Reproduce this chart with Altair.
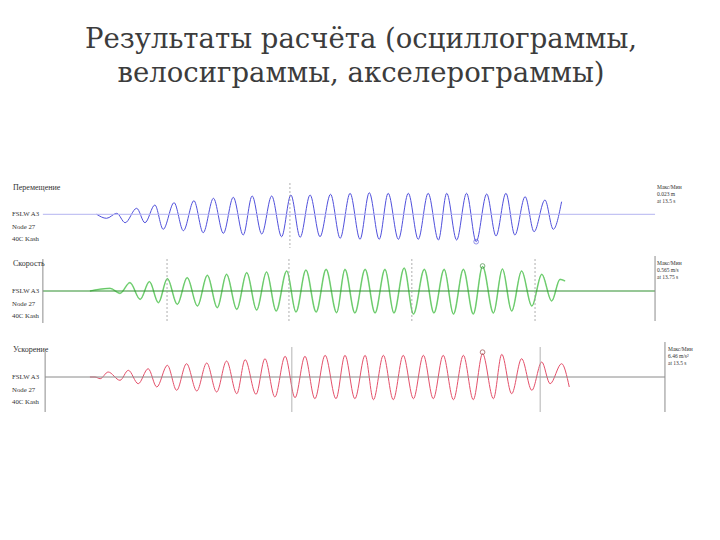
import altair as alt
import pandas as pd

TITLE_LINES = ["Результаты расчёта (осциллограммы,", "велосиграммы, акселерограммы)"]

# ---- Displacement (mm), time (s)
disp_t = [1.57, 1.88, 2.20, 2.46, 2.82, 3.08, 3.39, 3.65, 3.99, 4.28, 4.61, 4.90, 5.22, 5.53,
          5.84, 6.15, 6.43, 6.73, 7.04, 7.35, 7.64, 7.93, 8.24, 8.55, 8.88, 9.18, 9.49, 9.80,
          10.09, 10.40, 10.68, 11.00, 11.31, 11.62, 11.93, 12.25, 12.51, 12.82, 13.13, 13.43,
          13.76, 14.05, 14.36, 14.64, 14.96, 15.24, 15.58, 15.84, 16.10]
disp_v = [0, -4, 1, -8.4, 6, -8.4, 9.3, -15, 11.6, -16.4, 13.6, -18.4, 16, -19,
          17, -20.7, 18.3, -19.7, 18.3, -22.4, 19.3, -23, 19.3, -22.4, 20, -24, 21, -25,
          21.6, -25, 21, -25, 21, -25, 21, -25.7, 21, -25.7, 21, -27.4,
          20.3, -21.7, 21, -20.7, 17.6, -17.4, 14.3, -15, 12.6]

# ---- Velocity (m/s)
vel_t = [1.36, 1.99, 2.30, 2.61, 2.93, 3.22, 3.50, 3.78, 4.09, 4.40, 4.72, 5.03, 5.34, 5.63,
         5.95, 6.26, 6.57, 6.88, 7.18, 7.51, 7.80, 8.11, 8.43, 8.74, 9.07, 9.33, 9.64, 9.96,
         10.27, 10.58, 10.86, 11.18, 11.47, 11.81, 12.11, 12.43, 12.72, 13.03, 13.34, 13.63,
         13.97, 14.25, 14.54, 14.85, 15.17, 15.48, 15.79, 16.05, 16.21]
vel_v = [0, 0.061, -0.052, 0.188, -0.188, 0.210, -0.264, 0.278, -0.301, 0.301, -0.339, 0.355,
         -0.377, 0.377, -0.414, 0.414, -0.429, 0.429, -0.452, 0.452, -0.475, 0.475, -0.475,
         0.490, -0.490, 0.490, -0.497, 0.490, -0.497, 0.490, -0.497, 0.520, -0.520, 0.490,
         -0.497, 0.490, -0.520, 0.490, -0.520, 0.554, -0.497, 0.497, -0.452, 0.452, -0.339,
         0.377, -0.226, 0.264, 0.226]

# ---- Acceleration (m/s^2)
acc_t = [1.36, 1.52, 1.68, 1.93, 2.30, 2.56, 2.87, 3.18, 3.45, 3.78, 4.07, 4.38, 4.70, 5.01,
         5.32, 5.63, 5.95, 6.21, 6.55, 6.83, 7.14, 7.46, 7.77, 8.08, 8.39, 8.71, 9.05, 9.33,
         9.64, 9.96, 10.22, 10.53, 10.84, 11.15, 11.47, 11.78, 12.09, 12.40, 12.72, 13.03,
         13.34, 13.63, 13.97, 14.23, 14.54, 14.85, 15.17, 15.48, 15.74, 16.10, 16.34]
acc_v = [0, 0, -0.50, 1.47, -0.97, 1.97, -1.97, 2.44, -2.94, 3.44, -3.91, 3.91, -4.12, 4.12,
         -4.41, 4.70, -4.91, 5.09, -5.09, 5.38, -5.88, 6.09, -6.09, 6.09, -6.38, 6.38, -6.38,
         6.38, -6.38, 6.38, -6.67, 6.38, -6.67, 6.38, -6.38, 6.38, -6.38, 6.38, -6.67, 6.38,
         -6.67, 6.85, -6.38, 6.67, -4.91, 5.38, -3.91, 4.41, -1.97, 3.91, -2.94]

# markers at the extreme values
disp_marker = (13.43, -27.4)
vel_marker = (13.63, 0.565)
acc_marker = (13.63, 7.3)

# vertical guide lines (s)
disp_guides = [7.61]
vel_guides = [3.77, 7.58, 11.42, 15.27]
acc_guides = [7.67, 15.43]

# baseline / frame extents (s)
disp_extent = [-0.11, 19.02]
vel_extent = [-0.11, 19.02]
acc_extent = [-0.04, 19.33]

panel_titles = ["Перемещение", "Скорость", "Ускорение"]
left_labels = [["FSLW A3", "Node 27", "40C Kash"],
               ["FSLW A3", "Node 27", "40C Kash"],
               ["FSLW A3", "Node 27", "40C Kash"]]
right_labels = [["Макс/Мин", "0.023 m", "at 13.5 s"],
                ["Макс/Мин", "0.565 m/s", "at 13.75 s"],
                ["Макс/Мин", "6.46 m/s²", "at 13.5 s"]]

W = 704
XDOM = [-1.2, 20.8]
SERIF = "Liberation Serif"


def txt(s, x, y, size, align="left", color="#333333", font=SERIF):
    return alt.Chart(pd.DataFrame({"s": [s]})).mark_text(
        align=align, baseline="middle", fontSize=size, font=font, color=color
    ).encode(x=alt.value(x), y=alt.value(y), text="s:N")


def panel(t, v, color, base_color, ydom, height, base_y, extent, guides, guide_dash,
          guide_color, guide_y, frame_y, marker, mcolor, title, left, right, right_x,
          right_lh, wave_width=1.0, extra_color=None):
    xs = alt.Scale(domain=XDOM, nice=False, zero=False)
    ys = alt.Scale(domain=ydom, nice=False, zero=False)
    layers = []
    wave_df = pd.DataFrame({"t": t, "v": v})
    if extra_color:
        layers.append(alt.Chart(wave_df).mark_line(
            color=extra_color, strokeWidth=1.7, interpolate="monotone").encode(
            x=alt.X("t:Q", scale=xs, axis=None), y=alt.Y("v:Q", scale=ys, axis=None)))
    layers.append(alt.Chart(wave_df).mark_line(
        color=color, strokeWidth=wave_width, interpolate="monotone").encode(
        x=alt.X("t:Q", scale=xs, axis=None), y=alt.Y("v:Q", scale=ys, axis=None)))
    base_df = pd.DataFrame({"t": [extent[0]], "t2": [extent[1]], "v": [0.0]})
    layers.append(alt.Chart(base_df).mark_rule(color=base_color, strokeWidth=1).encode(
        x=alt.X("t:Q"), x2="t2:Q", y=alt.Y("v:Q")))
    layers.append(alt.Chart(pd.DataFrame({"t": guides})).mark_rule(
        color=guide_color, strokeWidth=0.8, strokeDash=guide_dash).encode(
        x=alt.X("t:Q"), y=alt.value(guide_y[0]), y2=alt.value(guide_y[1])))
    if frame_y is not None:
        for tt, (ya, yb) in zip(extent, frame_y):
            layers.append(alt.Chart(pd.DataFrame({"t": [tt]})).mark_rule(
                color="#8c8c8c", strokeWidth=1).encode(
                x=alt.X("t:Q"), y=alt.value(ya), y2=alt.value(yb)))
    layers.append(alt.Chart(pd.DataFrame({"t": [marker[0]], "v": [marker[1]]})).mark_point(
        shape="circle", size=22, filled=False, color=mcolor, strokeWidth=0.9).encode(
        x=alt.X("t:Q"), y=alt.Y("v:Q")))
    layers.append(txt(title, 5, 8, 8))
    for i, s in enumerate(left):
        layers.append(txt(s, 4, base_y + i * 12.5, 6.8))
    for i, s in enumerate(right):
        layers.append(txt(s, right_x, 7 + i * right_lh, 5.5))
    return alt.layer(*layers).properties(width=W, height=height)


title_panel = alt.layer(
    txt(TITLE_LINES[0], 353, 32, 27.5, align="center", color="#3c3c3c", font="DejaVu Serif"),
    txt(TITLE_LINES[1], 353, 66, 27.5, align="center", color="#3c3c3c", font="DejaVu Serif"),
).properties(width=W, height=172)

p1 = panel(disp_t, disp_v, "#5050dc", "#b4b4f0", [-40.7, 34.3], 75, 34, disp_extent,
           disp_guides, [2, 2], "#9a9a9a", (3, 68), None, disp_marker, "#5050dc",
           panel_titles[0], left_labels[0], right_labels[0], 649, 7)
p2 = panel(vel_t, vel_v, "#49b449", "#2f8f2f", [-1.13, 0.791], 85, 35, vel_extent,
           vel_guides, [2, 2], "#9a9a9a", (3, 67), [(3, 67), (0, 65)], vel_marker, "#2f7f2f",
           panel_titles[1], left_labels[1], right_labels[1], 649, 7,
           wave_width=0.7, extra_color="#a6e8a6")
p3 = panel(acc_t, acc_v, "#e4506a", "#8a8a8a", [-13.23, 10.29], 80, 35, acc_extent,
           acc_guides, [4, 0], "#a0a0a0", (5, 70), [(10, 70), (0, 70)], acc_marker, "#8a3030",
           panel_titles[2], left_labels[2], right_labels[2], 660, 7)

chart = alt.vconcat(title_panel, p1, p2, p3, spacing=0).properties(
    padding=0, background="white"
).configure_view(stroke=None)

chart.save("out.html", embed_options={"renderer": "svg", "actions": False})
